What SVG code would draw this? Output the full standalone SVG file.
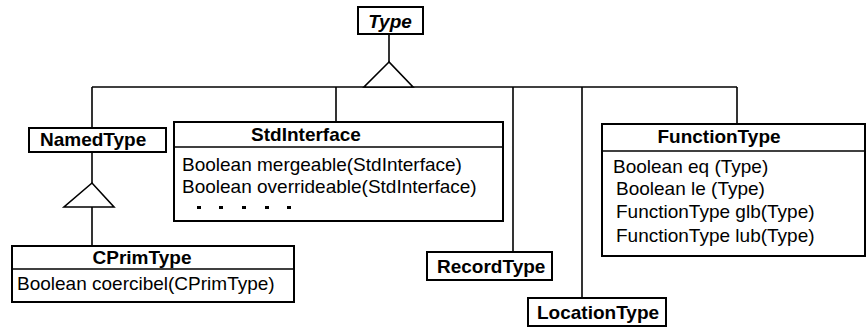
<svg xmlns="http://www.w3.org/2000/svg" width="867" height="327" viewBox="0 0 867 327">
  <style>
    .box { fill: #fff; stroke: #000; stroke-width: 2; }
    .div { stroke: #000; stroke-width: 1.5; }
    .edge { fill: none; stroke: #000; stroke-width: 1.6; }
    .tri { fill: #fff; stroke: #000; stroke-width: 1.6; stroke-linejoin: miter; }
    .t { font-family: "Liberation Sans", Arial, sans-serif; font-size: 19px; fill: #000; }
    .b { font-weight: bold; }
    .i { font-style: italic; }
    .c { text-anchor: middle; }
  </style>
  <rect width="867" height="327" fill="#fff"/>

  <!-- inheritance connectors -->
  <g id="connectors">
    <line class="edge" x1="389" y1="34" x2="389" y2="62"/>
    <line class="edge" x1="92" y1="87" x2="737" y2="87"/>
    <line class="edge" x1="92" y1="87" x2="92" y2="128"/>
    <line class="edge" x1="336" y1="87" x2="336" y2="122"/>
    <line class="edge" x1="513" y1="87" x2="513" y2="252"/>
    <line class="edge" x1="582" y1="87" x2="582" y2="298"/>
    <line class="edge" x1="737" y1="87" x2="737" y2="124"/>
    <polygon class="tri" points="389,62 364,87 413,87"/>
    <line class="edge" x1="92" y1="152" x2="92" y2="183"/>
    <polygon class="tri" points="92,183 64,207 114,207"/>
    <line class="edge" x1="92" y1="207" x2="92" y2="246"/>
  </g>

  <g id="Type">
    <rect class="box" x="358" y="7" width="65" height="27"/>
    <text class="t b i c" x="390" y="28">Type</text>
  </g>

  <g id="NamedType">
    <rect class="box" x="29" y="128" width="137" height="24"/>
    <text class="t b" x="40" y="146">NamedType</text>
  </g>

  <g id="StdInterface">
    <rect class="box" x="174" y="122" width="329" height="99"/>
    <line class="div" x1="174" y1="147" x2="503" y2="147"/>
    <text class="t b c" x="306" y="141">StdInterface</text>
    <text class="t" x="182" y="171">Boolean mergeable(StdInterface)</text>
    <text class="t" x="182" y="193">Boolean overrideable(StdInterface)</text>
    <g fill="#000">
      <rect x="197" y="206" width="4" height="3"/>
      <rect x="219" y="206" width="4" height="3"/>
      <rect x="242" y="206" width="4" height="3"/>
      <rect x="265" y="206" width="4" height="3"/>
      <rect x="287" y="206" width="4" height="3"/>
    </g>
  </g>

  <g id="CPrimType">
    <rect class="box" x="12" y="246" width="282" height="56"/>
    <line class="div" x1="12" y1="269" x2="294" y2="269"/>
    <text class="t b c" x="142" y="264">CPrimType</text>
    <text class="t" x="17" y="290">Boolean coercibel(CPrimType)</text>
  </g>

  <g id="RecordType">
    <rect class="box" x="427" y="252" width="125" height="28"/>
    <text class="t b" x="437" y="273">RecordType</text>
  </g>

  <g id="LocationType">
    <rect class="box" x="528" y="298" width="138" height="28"/>
    <text class="t b" x="537" y="319">LocationType</text>
  </g>

  <g id="FunctionType">
    <rect class="box" x="602" y="124" width="263" height="132"/>
    <line class="div" x1="602" y1="151" x2="865" y2="151"/>
    <text class="t b c" x="719" y="143">FunctionType</text>
    <text class="t" x="613" y="173">Boolean eq (Type)</text>
    <text class="t" x="616" y="195">Boolean le (Type)</text>
    <text class="t" x="616" y="218">FunctionType glb(Type)</text>
    <text class="t" x="616" y="242">FunctionType lub(Type)</text>
  </g>
</svg>
